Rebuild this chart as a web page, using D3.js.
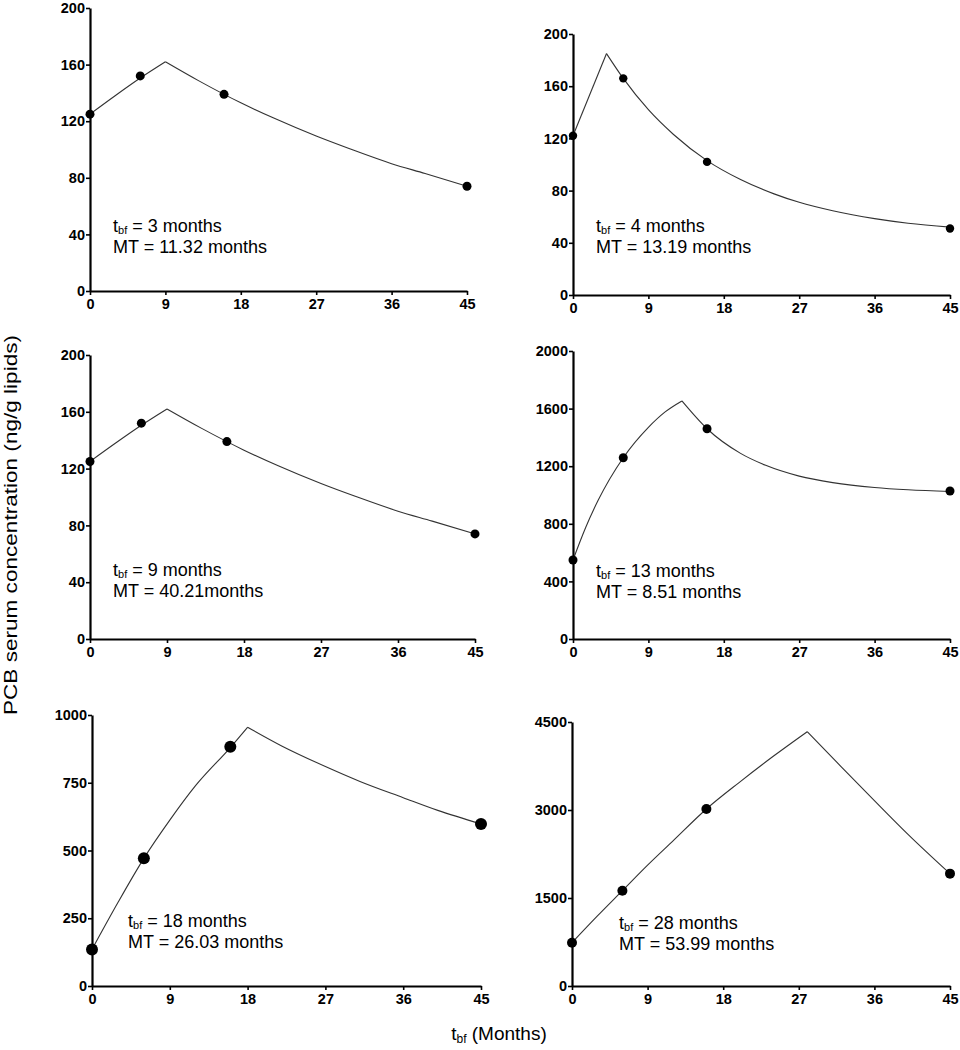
<!DOCTYPE html>
<html>
<head>
<meta charset="utf-8">
<script src="https://cdn.jsdelivr.net/npm/d3@7"></script>
<style>
  html, body { margin: 0; padding: 0; background: #fff; }
  svg { display: block; }
  text { font-family: "Liberation Sans", Arial, sans-serif; }
</style>
</head>
<body>
<svg id="chart" width="960" height="1050"></svg>
<script>
// ---------------- DATA ----------------
const monthTicks = [0, 9, 18, 27, 36, 45];
const sampleMonths = [0, 6, 16, 45];

const tbfLabels = ["3", "4", "9", "13", "18", "28"];
const mtLabels = ["11.32 months", "13.19 months", "40.21months", "8.51 months", "26.03 months", "53.99 months"];

const yTicks1 = [0, 40, 80, 120, 160, 200];
const yTicks2 = [0, 40, 80, 120, 160, 200];
const yTicks3 = [0, 40, 80, 120, 160, 200];
const yTicks4 = [0, 400, 800, 1200, 1600, 2000];
const yTicks5 = [0, 250, 500, 750, 1000];
const yTicks6 = [0, 1500, 3000, 4500];

// measured points
const points1 = [125, 152, 139, 74];
const points2 = [122, 166, 102, 51];
const points3 = [125, 152, 139, 74];
const points4 = [549, 1259, 1460, 1028];
const points5 = [135, 471, 883, 598];
const points6 = [738, 1625, 3017, 1915];

// model curves (rise phase, decay phase)
const rise1X = [0, 3, 6, 9];
const rise1Y = [125, 138, 150.5, 162];
const decay1X = [9, 13, 18, 22, 27, 31, 36, 40, 45];
const decay1Y = [162, 148.5, 133, 122, 109.5, 100.5, 90, 83, 74];

const rise2X = [0, 4];
const rise2Y = [122, 185];
const decay2X = [4, 6, 9, 12, 16, 20, 24, 27, 31, 36, 40, 45];
const decay2Y = [185, 166, 142, 123, 103, 88.5, 77.5, 71, 64.5, 58.5, 55, 52];

const rise3X = [0, 3, 6, 9];
const rise3Y = [125, 138, 150.5, 162];
const decay3X = [9, 13, 18, 22, 27, 31, 36, 40, 45];
const decay3Y = [162, 148.5, 133, 122, 109.5, 100.5, 90, 83, 74];

const rise4X = [0, 1.5, 3, 6, 9, 11, 13];
const rise4Y = [549, 773, 963, 1259, 1470, 1577, 1653];
const decay4X = [13, 16, 20, 23, 27, 31, 36, 40, 45];
const decay4Y = [1653, 1460, 1289, 1206, 1131, 1086, 1052, 1036, 1024];

const rise5X = [0, 3, 6, 9, 12, 16, 18];
const rise5Y = [135, 308, 471, 612, 740, 880, 955];
const decay5X = [18, 22, 27, 31, 36, 40, 45];
const decay5Y = [955, 885, 810, 755, 695, 648, 598];

const rise6X = [0, 3, 6, 9, 12, 16, 20, 24, 28];
const rise6Y = [738, 1190, 1625, 2060, 2470, 3017, 3480, 3920, 4335];
const decay6X = [28, 32, 36, 40, 45];
const decay6Y = [4335, 3745, 3160, 2585, 1915];

// ---------------- LAYOUT ----------------
const frames = [
  { left: 90,  right: 467, top: 8,   bottom: 291, r: 4.5, tx: 113, ty: 233 },
  { left: 573, right: 950, top: 34,  bottom: 295, r: 4.2, tx: 596, ty: 233 },
  { left: 90,  right: 475, top: 355, bottom: 639, r: 4.5, tx: 113, ty: 577 },
  { left: 573, right: 950, top: 351, bottom: 639, r: 4.5, tx: 596, ty: 578 },
  { left: 92,  right: 481, top: 715, bottom: 986, r: 6,   tx: 128, ty: 928 },
  { left: 572, right: 950, top: 722, bottom: 986, r: 5,   tx: 619, ty: 930 }
];

const panels = [
  { yTicks: yTicks1, pts: points1, rx: rise1X, ry: rise1Y, dx: decay1X, dy: decay1Y },
  { yTicks: yTicks2, pts: points2, rx: rise2X, ry: rise2Y, dx: decay2X, dy: decay2Y },
  { yTicks: yTicks3, pts: points3, rx: rise3X, ry: rise3Y, dx: decay3X, dy: decay3Y },
  { yTicks: yTicks4, pts: points4, rx: rise4X, ry: rise4Y, dx: decay4X, dy: decay4Y },
  { yTicks: yTicks5, pts: points5, rx: rise5X, ry: rise5Y, dx: decay5X, dy: decay5Y },
  { yTicks: yTicks6, pts: points6, rx: rise6X, ry: rise6Y, dx: decay6X, dy: decay6Y }
];

const svg = d3.select("#chart");
const FONT = "'Liberation Sans', Arial, sans-serif";

panels.forEach((p, i) => {
  const f = frames[i];
  const x = d3.scaleLinear().domain([0, 45]).range([f.left, f.right]);
  const y = d3.scaleLinear().domain([0, d3.max(p.yTicks)]).range([f.bottom, f.top]);
  const g = svg.append("g").attr("class", "panel");

  // axes
  const yAxis = d3.axisLeft(y).tickValues(p.yTicks).tickSize(4).tickSizeOuter(0).tickPadding(1)
    .tickFormat(d3.format("d"));
  const xAxis = d3.axisBottom(x).tickValues(monthTicks).tickSize(4).tickSizeOuter(0).tickPadding(4)
    .tickFormat(d3.format("d"));

  const ya = g.append("g").attr("transform", `translate(${f.left},0)`).call(yAxis);
  const xa = g.append("g").attr("transform", `translate(0,${f.bottom})`).call(xAxis);
  [ya, xa].forEach(a => {
    a.attr("font-size", null).attr("font-family", null);
    a.select(".domain").attr("stroke", "#000").attr("stroke-width", 2.2);
    a.selectAll(".tick line").attr("stroke", "#000").attr("stroke-width", 1.6);
    a.selectAll(".tick text")
      .attr("fill", "#000")
      .style("font-family", FONT)
      .style("font-size", "14.5px")
      .style("font-weight", "bold");
  });

  // curve
  const line = d3.line().x(d => x(d[0])).y(d => y(d[1])).curve(d3.curveMonotoneX);
  const riseData = p.rx.map((v, k) => [v, p.ry[k]]);
  const decayData = p.dx.map((v, k) => [v, p.dy[k]]);
  [riseData, decayData].forEach(seg => {
    g.append("path")
      .attr("d", line(seg))
      .attr("fill", "none")
      .attr("stroke", "#333")
      .attr("stroke-width", 1.1);
  });

  // points
  g.selectAll("circle.pt")
    .data(sampleMonths.map((m, k) => [m, p.pts[k]]))
    .join("circle")
    .attr("class", "pt")
    .attr("cx", d => x(d[0]))
    .attr("cy", d => y(d[1]))
    .attr("r", f.r)
    .attr("fill", "#000");

  // annotation
  const t1 = g.append("text")
    .attr("x", f.tx).attr("y", f.ty - 1)
    .style("font-size", "18px").attr("fill", "#000");
  t1.append("tspan").text("t");
  t1.append("tspan").text("bf").style("font-size", "11px").attr("dy", 2);
  t1.append("tspan").text(" = " + tbfLabels[i] + " months").attr("dy", -2);

  g.append("text")
    .attr("x", f.tx).attr("y", f.ty + 20)
    .style("font-size", "18px").attr("fill", "#000")
    .text("MT = " + mtLabels[i]);
});

// shared axis titles
svg.append("text")
  .attr("transform", "translate(17,525) rotate(-90)")
  .attr("text-anchor", "middle")
  .attr("textLength", 380)
  .attr("lengthAdjust", "spacingAndGlyphs")
  .style("font-size", "18px")
  .attr("fill", "#000")
  .text("PCB serum concentration (ng/g lipids)");

const xt = svg.append("text")
  .attr("x", 499).attr("y", 1040)
  .attr("text-anchor", "middle")
  .style("font-size", "19px")
  .attr("fill", "#000");
xt.append("tspan").text("t");
xt.append("tspan").text("bf").style("font-size", "12px").attr("dy", 3);
xt.append("tspan").text(" (Months)").attr("dy", -3);
</script>
</body>
</html>
